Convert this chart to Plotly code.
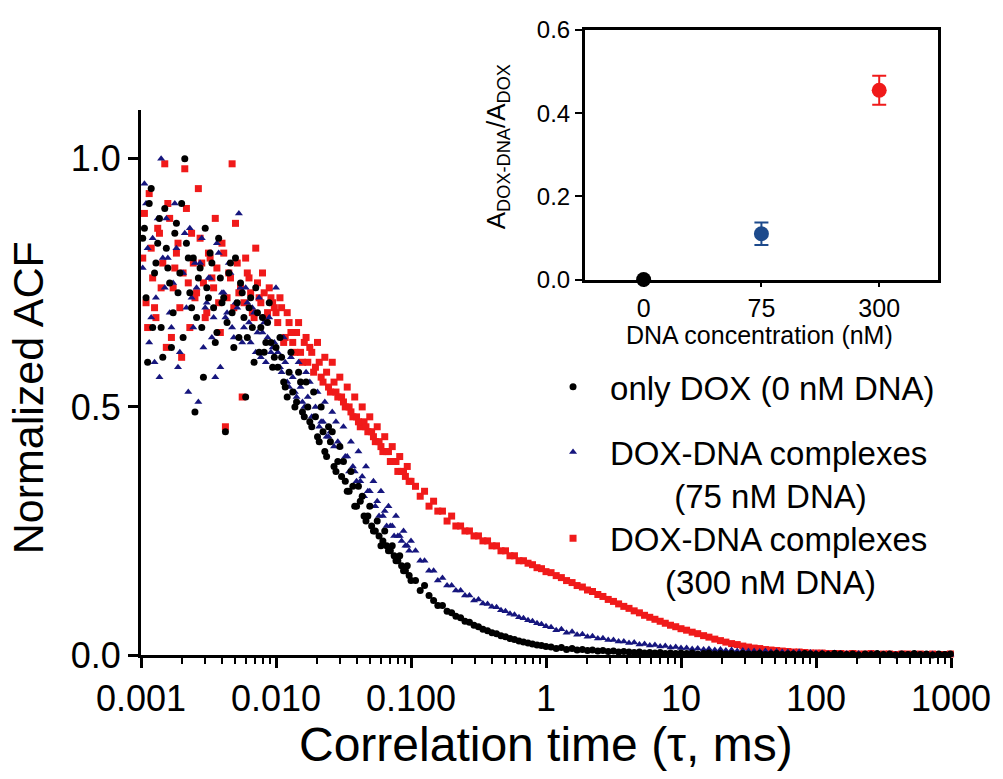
import plotly.graph_objects as go

# ---------------- data ----------------
tau_ms = [
    1.06e-3, 1.12e-3, 1.19e-3, 1.26e-3, 1.33e-3, 1.41e-3, 1.50e-3, 1.58e-3, 1.68e-3, 1.78e-3,
    1.88e-3, 2.00e-3, 2.11e-3, 2.24e-3, 2.37e-3, 2.51e-3, 2.66e-3, 2.82e-3, 2.99e-3, 3.16e-3,
    3.35e-3, 3.55e-3, 3.76e-3, 3.98e-3, 4.22e-3, 4.47e-3, 4.73e-3, 5.01e-3, 5.31e-3, 5.62e-3,
    5.96e-3, 6.31e-3, 6.68e-3, 7.08e-3, 7.50e-3, 7.94e-3, 8.41e-3, 8.91e-3, 9.44e-3, 1.00e-2,
    1.07e-2, 1.14e-2, 1.21e-2, 1.29e-2, 1.38e-2, 1.47e-2, 1.57e-2, 1.67e-2, 1.78e-2, 1.90e-2,
    2.03e-2, 2.16e-2, 2.30e-2, 2.45e-2, 2.61e-2, 2.78e-2, 2.97e-2, 3.16e-2, 3.37e-2, 3.59e-2,
    3.83e-2, 4.08e-2, 4.35e-2, 4.64e-2, 4.95e-2, 5.27e-2, 5.62e-2, 5.99e-2, 6.39e-2, 6.81e-2,
    7.26e-2, 7.74e-2, 8.25e-2, 8.80e-2, 9.38e-2, 0.100,
    0.108, 0.117, 0.126, 0.136, 0.147, 0.158, 0.171, 0.185, 0.200, 0.215,
    0.233, 0.251, 0.271, 0.293, 0.316, 0.341, 0.369, 0.398, 0.430, 0.464,
    0.501, 0.541, 0.584, 0.631, 0.681, 0.736, 0.794, 0.858, 0.926, 1.00,
    1.09, 1.19, 1.30, 1.42, 1.56, 1.70, 1.86, 2.03, 2.21, 2.42,
    2.64, 2.89, 3.16, 3.45, 3.77, 4.12, 4.50, 4.92, 5.37, 5.87,
    6.41, 7.01, 7.65, 8.36, 9.14, 10.0,
    11.0, 12.1, 13.3, 14.7, 16.1, 17.8, 19.6, 21.5, 23.7, 26.1,
    28.7, 31.6, 34.8, 38.3, 42.2, 46.4, 51.1, 56.2, 61.9, 68.1,
    75.0, 82.5, 90.9, 100.0,
    111, 123, 137, 152, 169, 187, 207, 231, 256, 284,
    316, 351, 389, 432, 480, 534, 592, 658, 731, 811, 900, 990,
]

acf_dox = [
    0.86, 0.59, 0.94, 0.77, 0.83, 0.66, 0.90, 0.78, 0.62, 0.85,
    0.73, 0.91, 1.00, 0.80, 0.70, 0.49, 0.76, 0.66, 0.86, 0.72,
    0.79, 0.63, 0.84, 0.71, 0.45, 0.77, 0.69, 0.80, 0.64, 0.73,
    0.52, 0.70, 0.66, 0.74, 0.61, 0.68, 0.63, 0.71, 0.58, 0.62,
    0.64, 0.55, 0.52, 0.61, 0.50, 0.57, 0.49, 0.55, 0.47, 0.53,
    0.44, 0.50, 0.41, 0.46, 0.45, 0.37, 0.42, 0.39, 0.33, 0.37,
    0.30, 0.34, 0.32, 0.27, 0.30, 0.25, 0.27, 0.22, 0.25, 0.21,
    0.22, 0.19, 0.20, 0.17, 0.18, 0.15,
    0.15, 0.13, 0.14, 0.12, 0.11, 0.10, 0.10, 0.088, 0.085, 0.078,
    0.075, 0.068, 0.066, 0.060, 0.057, 0.052, 0.049, 0.045, 0.043, 0.039,
    0.037, 0.033, 0.031, 0.028, 0.026, 0.024, 0.022, 0.020, 0.019, 0.017,
    0.016, 0.013, 0.015, 0.011, 0.013, 0.010, 0.011, 0.009, 0.010, 0.008,
    0.009, 0.007, 0.008, 0.006, 0.007, 0.006, 0.005, 0.006, 0.004, 0.005,
    0.004, 0.005, 0.003, 0.004, 0.003, 0.004,
    0.003, 0.004, 0.002, 0.003, 0.004, 0.002, 0.003, 0.002, 0.003, 0.001,
    0.003, 0.002, 0.002, 0.003, 0.001, 0.002, 0.003, 0.001, 0.002, 0.002,
    0.001, 0.003, 0.002, 0.001,
    0.002, 0.001, 0.003, 0.002, 0.001, 0.002, 0.000, 0.002, 0.001, 0.003,
    0.001, 0.002, 0.000, 0.002, 0.001, 0.003, 0.001, 0.002, 0.000, 0.002, 0.001, 0.002,
]

acf_75 = [
    0.95, 0.82, 0.68, 0.59, 0.88, 1.00, 0.74, 0.80, 0.66, 0.91,
    0.58, 0.77, 0.85, 0.53, 0.72, 0.79, 0.51, 0.84, 0.70, 0.76,
    0.64, 0.56, 0.81, 0.73, 0.68, 0.79, 0.66, 0.71, 0.89, 0.63,
    0.74, 0.67, 0.70, 0.61, 0.72, 0.65, 0.59, 0.68, 0.62, 0.74,
    0.58, 0.64, 0.55, 0.60, 0.53, 0.59, 0.51, 0.57, 0.55, 0.48,
    0.53, 0.47, 0.51, 0.44, 0.49, 0.47, 0.42, 0.46, 0.40, 0.43,
    0.37, 0.41, 0.36, 0.38, 0.33, 0.35, 0.31, 0.33, 0.29, 0.30,
    0.26, 0.28, 0.24, 0.25, 0.22, 0.23,
    0.21, 0.19, 0.19, 0.17, 0.17, 0.15, 0.155, 0.14, 0.14, 0.13,
    0.13, 0.12, 0.12, 0.11, 0.112, 0.104, 0.103, 0.097, 0.096, 0.090,
    0.088, 0.083, 0.081, 0.076, 0.074, 0.070, 0.068, 0.064, 0.062, 0.058,
    0.056, 0.050, 0.052, 0.045, 0.047, 0.041, 0.042, 0.037, 0.038, 0.033,
    0.034, 0.030, 0.030, 0.027, 0.027, 0.024, 0.025, 0.021, 0.022, 0.019,
    0.020, 0.017, 0.018, 0.015, 0.016, 0.014,
    0.014, 0.012, 0.013, 0.011, 0.012, 0.010, 0.011, 0.009, 0.010, 0.008,
    0.009, 0.008, 0.008, 0.007, 0.008, 0.006, 0.007, 0.006, 0.006, 0.005,
    0.006, 0.004, 0.005, 0.004,
    0.004, 0.003, 0.004, 0.003, 0.003, 0.002, 0.003, 0.002, 0.003, 0.001,
    0.002, 0.002, 0.001, 0.002, 0.001, 0.002, 0.001, 0.001, 0.002, 0.000, 0.001, 0.001,
]

acf_300 = [
    0.89, 0.66, 0.82, 0.70, 0.86, 0.74, 0.99, 0.91, 0.64, 0.78,
    0.83, 0.60, 0.98, 0.75, 0.85, 0.72, 0.94, 0.79, 0.68, 0.81,
    0.76, 0.88, 0.71, 0.83, 0.46, 0.77, 0.99, 0.87, 0.73, 0.52,
    0.80, 0.76, 0.69, 0.82, 0.72, 0.77, 0.68, 0.74, 0.71, 0.69,
    0.72, 0.63, 0.69, 0.65, 0.61, 0.67, 0.59, 0.64, 0.62, 0.57,
    0.63, 0.56, 0.60, 0.54, 0.59, 0.53, 0.56, 0.51, 0.54, 0.49,
    0.52, 0.47, 0.50, 0.46, 0.48, 0.44, 0.46, 0.42, 0.44, 0.41,
    0.42, 0.39, 0.40, 0.37, 0.38, 0.35,
    0.34, 0.32, 0.33, 0.30, 0.31, 0.29, 0.29, 0.27, 0.28, 0.26,
    0.26, 0.25, 0.25, 0.24, 0.24, 0.23, 0.23, 0.22, 0.22, 0.21,
    0.21, 0.20, 0.20, 0.19, 0.19, 0.185, 0.182, 0.176, 0.174, 0.168,
    0.166, 0.160, 0.156, 0.150, 0.146, 0.140, 0.137, 0.131, 0.128, 0.122,
    0.118, 0.112, 0.108, 0.103, 0.098, 0.094, 0.089, 0.085, 0.080, 0.076,
    0.072, 0.068, 0.064, 0.060, 0.057, 0.053,
    0.050, 0.046, 0.043, 0.039, 0.036, 0.032, 0.029, 0.026, 0.023, 0.021,
    0.018, 0.016, 0.014, 0.013, 0.011, 0.010, 0.009, 0.008, 0.007, 0.006,
    0.006, 0.005, 0.004, 0.004,
    0.004, 0.003, 0.003, 0.003, 0.002, 0.003, 0.002, 0.002, 0.003, 0.001,
    0.002, 0.002, 0.001, 0.002, 0.002, 0.001, 0.002, 0.001, 0.002, 0.001, 0.001, 0.002,
]

# extra (interleaved) lag times in the dense, noisy early part
tau_ms_early = [
    1.03e-3, 1.09e-3, 1.15e-3, 1.22e-3, 1.29e-3, 1.37e-3, 1.45e-3, 1.54e-3, 1.63e-3, 1.73e-3,
    1.83e-3, 1.94e-3, 2.05e-3, 2.17e-3, 2.30e-3, 2.44e-3, 2.58e-3, 2.74e-3, 2.90e-3, 3.07e-3,
    3.25e-3, 3.45e-3, 3.65e-3, 3.87e-3, 4.10e-3, 4.34e-3, 4.60e-3, 4.87e-3, 5.16e-3, 5.46e-3,
    5.79e-3, 6.13e-3, 6.49e-3, 6.88e-3, 7.29e-3, 7.72e-3, 8.17e-3, 8.66e-3, 9.17e-3, 9.72e-3,
    1.03e-2, 1.10e-2, 1.17e-2, 1.25e-2, 1.33e-2, 1.42e-2, 1.52e-2, 1.62e-2, 1.72e-2, 1.84e-2,
    1.96e-2, 2.09e-2, 2.23e-2, 2.37e-2, 2.53e-2, 2.69e-2, 2.87e-2, 3.06e-2, 3.26e-2, 3.48e-2,
    3.71e-2, 3.95e-2, 4.21e-2, 4.49e-2, 4.79e-2, 5.11e-2, 5.44e-2, 5.80e-2, 6.19e-2, 6.60e-2,
    7.03e-2, 7.50e-2, 7.99e-2, 8.52e-2, 9.09e-2, 9.69e-2,
]

acf_dox_early = [
    0.84, 0.72, 0.91, 0.66, 0.79, 0.88, 0.60, 0.82, 0.75, 0.69,
    0.87, 0.77, 0.64, 0.83, 0.73, 0.80, 0.68, 0.78, 0.56, 0.74,
    0.81, 0.70, 0.65, 0.76, 0.72, 0.67, 0.79, 0.62, 0.71, 0.75,
    0.68, 0.64, 0.72, 0.59, 0.69, 0.66, 0.61, 0.67, 0.63, 0.60,
    0.58, 0.60, 0.54, 0.57, 0.53, 0.51, 0.55, 0.48, 0.50, 0.46,
    0.48, 0.43, 0.45, 0.40, 0.43, 0.38, 0.39, 0.36, 0.35, 0.33,
    0.34, 0.30, 0.31, 0.28, 0.28, 0.26, 0.25, 0.24, 0.23, 0.22,
    0.21, 0.20, 0.19, 0.18, 0.17, 0.16,
]

acf_75_early = [
    0.78, 0.91, 0.63, 0.84, 0.72, 0.56, 0.80, 0.88, 0.69, 0.75,
    0.82, 0.61, 0.77, 0.70, 0.86, 0.66, 0.74, 0.79, 0.62, 0.71,
    0.76, 0.68, 0.83, 0.58, 0.73, 0.69, 0.77, 0.64, 0.70, 0.74,
    0.66, 0.71, 0.63, 0.69, 0.65, 0.60, 0.67, 0.64, 0.61, 0.63,
    0.61, 0.57, 0.59, 0.54, 0.56, 0.52, 0.54, 0.50, 0.52, 0.48,
    0.50, 0.46, 0.47, 0.44, 0.45, 0.42, 0.43, 0.39, 0.40, 0.37,
    0.38, 0.35, 0.35, 0.32, 0.33, 0.30, 0.30, 0.28, 0.28, 0.26,
    0.26, 0.24, 0.24, 0.23, 0.22, 0.21,
]

acf_300_early = [
    0.80, 0.71, 0.93, 0.76, 0.68, 0.85, 0.79, 0.62, 0.88, 0.74,
    0.81, 0.70, 0.77, 0.90, 0.66, 0.79, 0.73, 0.84, 0.75, 0.69,
    0.80, 0.74, 0.78, 0.65, 0.81, 0.72, 0.76, 0.70, 0.79, 0.74,
    0.71, 0.77, 0.73, 0.68, 0.75, 0.71, 0.73, 0.69, 0.72, 0.70,
    0.67, 0.70, 0.64, 0.67, 0.63, 0.65, 0.61, 0.63, 0.59, 0.61,
    0.58, 0.59, 0.55, 0.57, 0.53, 0.55, 0.52, 0.52, 0.50, 0.50,
    0.48, 0.48, 0.46, 0.47, 0.45, 0.45, 0.43, 0.43, 0.41, 0.41,
    0.39, 0.39, 0.37, 0.37, 0.36, 0.35,
]

assert len(tau_ms) == len(acf_dox) == len(acf_75) == len(acf_300)
assert len(tau_ms_early) == len(acf_dox_early) == len(acf_75_early) == len(acf_300_early)

# inset data
conc_nM = ["0", "75", "300"]
ratio = [0.0, 0.11, 0.455]
ratio_err = [0.0, 0.027, 0.035]

x_tickvals = [0.001, 0.01, 0.1, 1, 10, 100, 1000]
x_ticktext = ["0.001", "0.010", "0.100", "1", "10", "100", "1000"]
y_tickvals = [0, 0.5, 1.0]
y_ticktext = ["0.0", "0.5", "1.0"]

# ---------------- style ----------------
FONT = "Liberation Sans, Arial, Helvetica, sans-serif"
BLACK = "#000000"
BLUE = "#16167e"
RED = "#f01a1a"
INSET_COLORS = ["#000000", "#1d4a8c", "#f01a1a"]
NB = "\u00a0"

name_dox = "only DOX (0 nM DNA)"
name_75 = "DOX-DNA complexes<br>" + NB * 7 + "(75 nM DNA)"
name_300 = "DOX-DNA complexes<br>" + NB * 6 + "(300 nM DNA)"

minor_vals = [m * 10 ** e for e in range(-3, 3) for m in range(2, 10)]

all_tau = tau_ms_early + tau_ms

fig = go.Figure()

fig.add_trace(go.Scatter(
    x=all_tau, y=acf_300_early + acf_300, mode="markers", name=name_300, legend="legend3",
    marker=dict(symbol="square", size=7, color=RED), cliponaxis=False))
fig.add_trace(go.Scatter(
    x=all_tau, y=acf_75_early + acf_75, mode="markers", name=name_75, legend="legend2",
    marker=dict(symbol="triangle-up", size=7, color=BLUE), cliponaxis=False))
fig.add_trace(go.Scatter(
    x=all_tau, y=acf_dox_early + acf_dox, mode="markers", name=name_dox, legend="legend",
    marker=dict(symbol="circle", size=7, color=BLACK), cliponaxis=False))

for i in range(len(conc_nM)):
    err = dict(type="data", array=[ratio_err[i]], color=INSET_COLORS[i],
               thickness=2, width=7, visible=ratio_err[i] > 0)
    fig.add_trace(go.Scatter(
        x=[conc_nM[i]], y=[ratio[i]], mode="markers", xaxis="x2", yaxis="y2",
        marker=dict(symbol="circle", size=15, color=INSET_COLORS[i]),
        error_y=err, showlegend=False, cliponaxis=False))

axis_common = dict(showgrid=False, zeroline=False, showline=True, linecolor="black",
                   ticks="outside", tickcolor="black")

leg_common = dict(xanchor="left", yanchor="top", font=dict(size=33, family=FONT, color="black"),
                  bgcolor="rgba(0,0,0,0)", borderwidth=0, itemwidth=64, valign="top")

fig.update_layout(
    width=1003, height=779,
    margin=dict(l=141, r=46, t=20, b=124),
    paper_bgcolor="white", plot_bgcolor="white",
    font=dict(family=FONT, color="black"),
    xaxis=dict(**axis_common, type="log", range=[-3, 3], domain=[0, 1], anchor="y",
               tickvals=x_tickvals, ticktext=x_ticktext, ticklen=10, tickwidth=3,
               linewidth=3, tickfont=dict(size=36),
               minor=dict(ticks="outside", tickvals=minor_vals, ticklen=6, tickwidth=2,
                          tickcolor="black", showgrid=False)),
    yaxis=dict(**axis_common, range=[0, 1.098], domain=[0, 0.8661], anchor="x",
               tickvals=y_tickvals, ticktext=y_ticktext, ticklen=10, tickwidth=3,
               linewidth=3, tickfont=dict(size=36)),
    xaxis2=dict(**axis_common, type="category", range=[-0.5, 2.5],
                domain=[0.5478, 0.9841], anchor="y2", mirror=True, linewidth=2.5,
                ticklen=5, tickwidth=2, tickfont=dict(size=25)),
    yaxis2=dict(**axis_common, range=[0, 0.6], domain=[0.5969, 0.9937], anchor="x2",
                mirror=True, linewidth=2.5, tickvals=[0, 0.2, 0.4, 0.6], tickformat=".1f",
                ticklen=7, tickwidth=2, tickfont=dict(size=24)),
    legend=dict(**leg_common, x=0.4877, y=0.471),
    legend2=dict(**leg_common, x=0.4877, y=0.367),
    legend3=dict(**leg_common, x=0.4877, y=0.2299),
    annotations=[
        dict(text="Correlation time (\u03c4, ms)", xref="paper", yref="paper",
             x=0.5, y=-0.1425, xanchor="center", yanchor="middle", showarrow=False,
             font=dict(size=48)),
        dict(text="Normalized ACF", xref="paper", yref="paper", textangle=-90,
             x=-0.1385, y=0.4094, xanchor="center", yanchor="middle", showarrow=False,
             font=dict(size=43)),
        dict(text="DNA concentration (nM)", xref="paper", yref="paper",
             x=0.7635, y=0.5080, xanchor="center", yanchor="middle", showarrow=False,
             font=dict(size=25)),
        dict(text="A<sub>DOX-DNA</sub>/A<sub>DOX</sub>", xref="paper", yref="paper",
             textangle=-90, x=0.44, y=0.8079, xanchor="center", yanchor="middle",
             showarrow=False, font=dict(size=26)),
    ],
)

fig.write_html("out.html")
